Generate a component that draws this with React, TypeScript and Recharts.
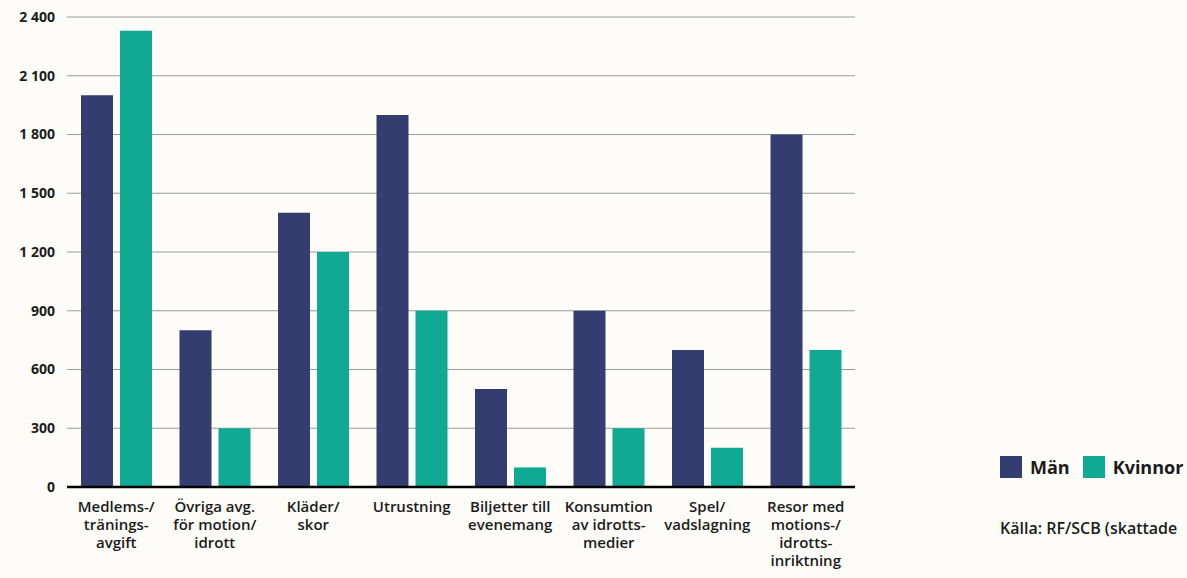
import { Bar, BarChart, CartesianGrid, XAxis, YAxis } from "recharts";

const categories = [
  "Medlems-/\ntränings-\navgift",
  "Övriga avg.\nför motion/\nidrott",
  "Kläder/\nskor",
  "Utrustning",
  "Biljetter till\nevenemang",
  "Konsumtion\nav idrotts-\nmedier",
  "Spel/\nvadslagning",
  "Resor med\nmotions-/\nidrotts-\ninriktning",
];
const man = [2000, 800, 1400, 1900, 500, 900, 700, 1800];
const kvinnor = [2330, 300, 1200, 900, 100, 300, 200, 700];
const yTicks = [0, 300, 600, 900, 1200, 1500, 1800, 2100, 2400];

const series = [
  { key: "man", name: "Män", color: "#333d6f" },
  { key: "kvinnor", name: "Kvinnor", color: "#10a993" },
];

const data = categories.map((label, i) => ({ label, man: man[i], kvinnor: kvinnor[i] }));

const font = "'Open Sans', sans-serif";
const ink = "#1b1b1b";

const fmt = (v: number) => String(v).replace(/\B(?=(\d{3})+(?!\d))/g, " ");

function CategoryTick(props: { x?: number; y?: number; payload?: { value: string } }) {
  const { x = 0, y = 0, payload } = props;
  const lines = (payload?.value ?? "").split("\n");
  return (
    <text
      x={x}
      y={y}
      textAnchor="middle"
      fill={ink}
      fontFamily={font}
      fontWeight={600}
      fontSize={15}
    >
      {lines.map((line, i) => (
        <tspan key={i} x={x} dy={i === 0 ? 25 : 18}>
          {line}
        </tspan>
      ))}
    </text>
  );
}

function LegendBox() {
  return (
    <div style={{ position: "absolute", left: 1000, top: 455, fontFamily: font, color: ink }}>
      <div style={{ display: "flex", alignItems: "center", height: 24 }}>
        {series.map((s) => (
          <div key={s.key} style={{ display: "flex", alignItems: "center", marginRight: 13 }}>
            <span style={{ width: 22, height: 22, background: s.color, display: "inline-block" }} />
            <span style={{ fontSize: 18, fontWeight: 700, marginLeft: 8, lineHeight: "24px" }}>
              {s.name}
            </span>
          </div>
        ))}
      </div>
      <div
        style={{
          fontSize: 16,
          fontWeight: 600,
          lineHeight: "22px",
          marginTop: 38,
          whiteSpace: "nowrap",
        }}
      >
        Källa: RF/SCB (skattade
      </div>
    </div>
  );
}

export default function App() {
  return (
    <div
      style={{
        position: "relative",
        width: 1187,
        height: 578,
        background: "#fdfcf8",
        overflow: "hidden",
      }}
    >
      <style>{`body{margin:0;background:#fdfcf8}`}</style>
      <BarChart
        width={1187}
        height={578}
        data={data}
        margin={{ top: 17, right: 332, bottom: 0, left: 0 }}
        barSize={32}
        barGap={7}
      >
        <CartesianGrid vertical={false} stroke="#9c9c98" strokeWidth={1.2} />
        <XAxis
          dataKey="label"
          height={91}
          interval={0}
          tickLine={false}
          tickSize={0}
          tickMargin={0}
          axisLine={{ stroke: "#000", strokeWidth: 2.5 }}
          tick={<CategoryTick />}
        />
        <YAxis
          width={67}
          domain={[0, 2400]}
          ticks={yTicks}
          tickFormatter={fmt}
          axisLine={false}
          tickLine={false}
          tickSize={0}
          tickMargin={12}
          tick={{ fill: ink, fontFamily: font, fontWeight: 700, fontSize: 14 }}
        />
        {series.map((s) => (
          <Bar key={s.key} dataKey={s.key} name={s.name} fill={s.color} isAnimationActive={false} />
        ))}
      </BarChart>
      <LegendBox />
    </div>
  );
}
